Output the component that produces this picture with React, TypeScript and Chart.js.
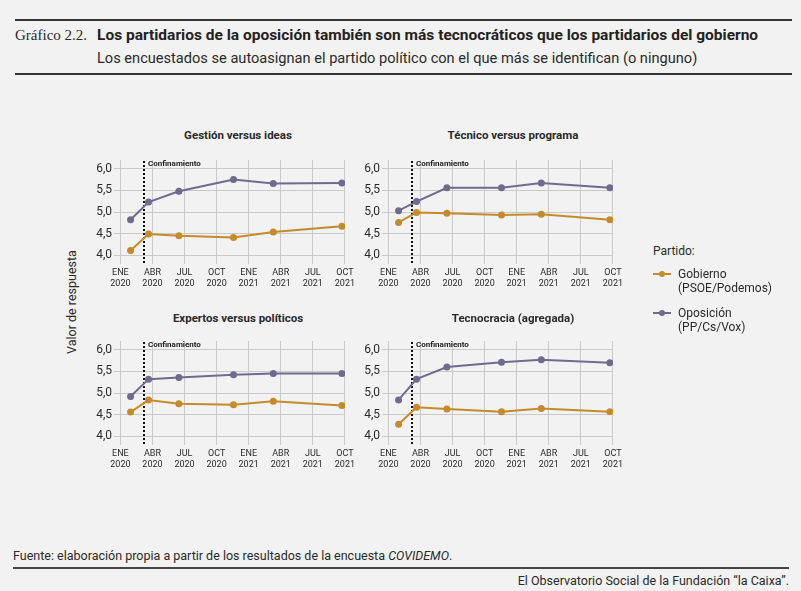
import { useEffect, useRef } from "react"
import { Chart, registerables, type Plugin } from "chart.js"

Chart.register(...registerables)

// months counted from January 2020 (0) on a linear x axis
const monthTicks = [0, 3, 6, 9, 12, 15, 18, 21]
const tickMonths = ["ENE", "ABR", "JUL", "OCT", "ENE", "ABR", "JUL", "OCT"]
const tickYears = ["2020", "2020", "2020", "2020", "2021", "2021", "2021", "2021"]
const surveyMonths = [0.95, 2.63, 5.47, 10.58, 14.3, 20.72]
const lockdownMonth = 2.2
const valueTicks = [4, 4.5, 5, 5.5, 6]

const panelTitles = [
  "Gestión versus ideas",
  "Técnico versus programa",
  "Expertos versus políticos",
  "Tecnocracia (agregada)",
]

const gobiernoGestion = [4.11, 4.49, 4.45, 4.41, 4.54, 4.67]
const oposicionGestion = [4.82, 5.23, 5.48, 5.75, 5.66, 5.67]
const gobiernoTecnico = [4.76, 4.99, 4.97, 4.93, 4.95, 4.82]
const oposicionTecnico = [5.03, 5.24, 5.56, 5.56, 5.67, 5.56]
const gobiernoExpertos = [4.56, 4.84, 4.75, 4.73, 4.81, 4.71]
const oposicionExpertos = [4.92, 5.32, 5.36, 5.42, 5.45, 5.45]
const gobiernoTecnocracia = [4.28, 4.67, 4.63, 4.57, 4.64, 4.57]
const oposicionTecnocracia = [4.84, 5.32, 5.6, 5.71, 5.77, 5.7]

const GOV = "#c58b2a"
const OPP = "#6f6b8e"
const GRID = "#c9c9c9"
const TEXT = "#2a2a2a"
const BG = "#f2f2f2"
const FONT = "Roboto, 'Noto Sans', sans-serif"

const CANVAS_W = 275
const CANVAS_H = 172

const lockdownPlugin: Plugin<"line"> = {
  id: "lockdown",
  beforeDatasetsDraw(chart) {
    const { ctx, chartArea, scales } = chart
    const x = Math.round(scales.x.getPixelForValue(lockdownMonth))
    ctx.save()
    ctx.strokeStyle = "#111"
    ctx.lineWidth = 2
    ctx.setLineDash([2, 2])
    ctx.beginPath()
    ctx.moveTo(x, chartArea.top + 1)
    ctx.lineTo(x, chartArea.bottom)
    ctx.stroke()
    ctx.setLineDash([])
    ctx.fillStyle = "#222"
    ctx.font = `bold 8px ${FONT}`
    ctx.textBaseline = "middle"
    ctx.fillText("Confinamiento", x + 4, chartArea.top + 3.5)
    ctx.restore()
  },
}

interface PanelProps {
  title: string
  gobierno: number[]
  oposicion: number[]
  left: number
  top: number
  titleX: number
  titleY: number
}

function Panel({ title, gobierno, oposicion, left, top, titleX, titleY }: PanelProps) {
  const canvasRef = useRef<HTMLCanvasElement>(null)

  useEffect(() => {
    const ctx = canvasRef.current?.getContext("2d")
    if (!ctx) return

    const series = (values: number[], color: string, label: string) => ({
      label,
      data: surveyMonths.map((m, i) => ({ x: m, y: values[i] })),
      borderColor: color,
      backgroundColor: color,
      borderWidth: 2,
      pointRadius: 3.5,
      pointBorderWidth: 0,
      tension: 0,
    })

    const chart = new Chart(ctx, {
      type: "line",
      data: {
        datasets: [
          series(gobierno, GOV, "Gobierno (PSOE/Podemos)"),
          series(oposicion, OPP, "Oposición (PP/Cs/Vox)"),
        ],
      },
      options: {
        animation: false,
        responsive: false,
        layout: { padding: { left: 0, right: 14, top: 36, bottom: 0 } },
        plugins: {
          legend: { display: false },
          tooltip: { enabled: false },
        },
        scales: {
          x: {
            type: "linear",
            min: -0.6,
            max: 21,
            afterBuildTicks: (axis) => {
              axis.ticks = monthTicks.map((v) => ({ value: v }))
            },
            afterFit: (axis) => {
              axis.height = 32
            },
            ticks: {
              autoSkip: false,
              maxRotation: 0,
              padding: 4,
              color: TEXT,
              font: { family: FONT, size: 9, lineHeight: 1.15 },
              callback: (_v, i) => [tickMonths[i], tickYears[i]],
            },
            grid: { color: GRID, drawTicks: false },
            border: { display: false },
          },
          y: {
            min: 3.8,
            max: 6.2,
            afterBuildTicks: (axis) => {
              axis.ticks = valueTicks.map((v) => ({ value: v }))
            },
            afterFit: (axis) => {
              axis.width = 30
            },
            ticks: {
              padding: 2,
              color: TEXT,
              font: { family: FONT, size: 12 },
              callback: (v) => Number(v).toFixed(1).replace(".", ","),
            },
            grid: { color: GRID, drawTicks: false },
            border: { display: false },
          },
        },
      },
      plugins: [lockdownPlugin],
    })

    return () => chart.destroy()
  }, [gobierno, oposicion])

  return (
    <>
      <div
        style={{
          position: "absolute",
          left: titleX - 100,
          width: 200,
          top: titleY - 8,
          lineHeight: "16px",
          textAlign: "center",
          fontFamily: FONT,
          fontWeight: 700,
          fontSize: 11.5,
          color: TEXT,
        }}
      >
        {title}
      </div>
      <canvas
        ref={canvasRef}
        width={CANVAS_W}
        height={CANVAS_H}
        style={{ position: "absolute", left, top, width: CANVAS_W, height: CANVAS_H }}
      />
    </>
  )
}

function LegendMark({ color }: { color: string }) {
  return (
    <div style={{ position: "relative", width: 18, height: 8 }}>
      <div style={{ position: "absolute", left: 0, top: 3, width: 18, height: 2, background: color }} />
      <div
        style={{
          position: "absolute",
          left: 6,
          top: 1,
          width: 6,
          height: 6,
          borderRadius: 3,
          background: color,
        }}
      />
    </div>
  )
}

const abs = (left: number, top: number, extra: React.CSSProperties = {}): React.CSSProperties => ({
  position: "absolute",
  left,
  top,
  whiteSpace: "nowrap",
  ...extra,
})

export default function App() {
  return (
    <div
      style={{
        position: "fixed",
        left: 0,
        top: 0,
        width: 801,
        height: 591,
        background: BG,
        overflow: "hidden",
        fontFamily: FONT,
        color: TEXT,
      }}
    >
      <div style={abs(15, 19, { width: 777, height: 2, background: "#333" })} />
      <div style={abs(15, 26, { fontFamily: "'Liberation Serif', 'DejaVu Serif', serif", fontSize: 15, lineHeight: "18px" })}>
        Gráfico 2.2.
      </div>
      <div style={abs(97, 26, { fontWeight: 700, fontSize: 15.5, lineHeight: "18px", color: "#222" })}>
        Los partidarios de la oposición también son más tecnocráticos que los partidarios del gobierno
      </div>
      <div style={abs(97, 49, { fontSize: 14.6, lineHeight: "18px" })}>
        Los encuestados se autoasignan el partido político con el que más se identifican (o ninguno)
      </div>
      <div style={abs(15, 73, { width: 777, height: 2, background: "#333" })} />

      <Panel title={panelTitles[0]} gobierno={gobiernoGestion} oposicion={oposicionGestion} left={84} top={124} titleX={238} titleY={135} />
      <Panel title={panelTitles[1]} gobierno={gobiernoTecnico} oposicion={oposicionTecnico} left={352} top={124} titleX={513} titleY={135} />
      <Panel title={panelTitles[2]} gobierno={gobiernoExpertos} oposicion={oposicionExpertos} left={84} top={305} titleX={238} titleY={318} />
      <Panel title={panelTitles[3]} gobierno={gobiernoTecnocracia} oposicion={oposicionTecnocracia} left={352} top={305} titleX={513} titleY={318} />

      <div
        style={abs(72, 302, {
          fontSize: 12.5,
          lineHeight: "14px",
          transform: "translate(-50%, -50%) rotate(-90deg)",
        })}
      >
        Valor de respuesta
      </div>

      <div style={abs(653, 243, { fontSize: 12, lineHeight: "16px" })}>Partido:</div>
      <div style={abs(653, 270)}>
        <LegendMark color={GOV} />
      </div>
      <div style={abs(678, 267, { fontSize: 12, lineHeight: "14px" })}>
        Gobierno
        <br />
        (PSOE/Podemos)
      </div>
      <div style={abs(653, 309)}>
        <LegendMark color={OPP} />
      </div>
      <div style={abs(678, 306, { fontSize: 12, lineHeight: "14px" })}>
        Oposición
        <br />
        (PP/Cs/Vox)
      </div>

      <div style={abs(13, 548, { fontSize: 12.5, lineHeight: "16px" })}>
        Fuente: elaboración propia a partir de los resultados de la encuesta <i>COVIDEMO</i>.
      </div>
      <div style={abs(13, 567, { width: 776, height: 2, background: "#444" })} />
      <div style={abs(0, 573, { width: 789, textAlign: "right", fontSize: 12.5, lineHeight: "16px" })}>
        El Observatorio Social de la Fundación “la Caixa”.
      </div>
    </div>
  )
}
